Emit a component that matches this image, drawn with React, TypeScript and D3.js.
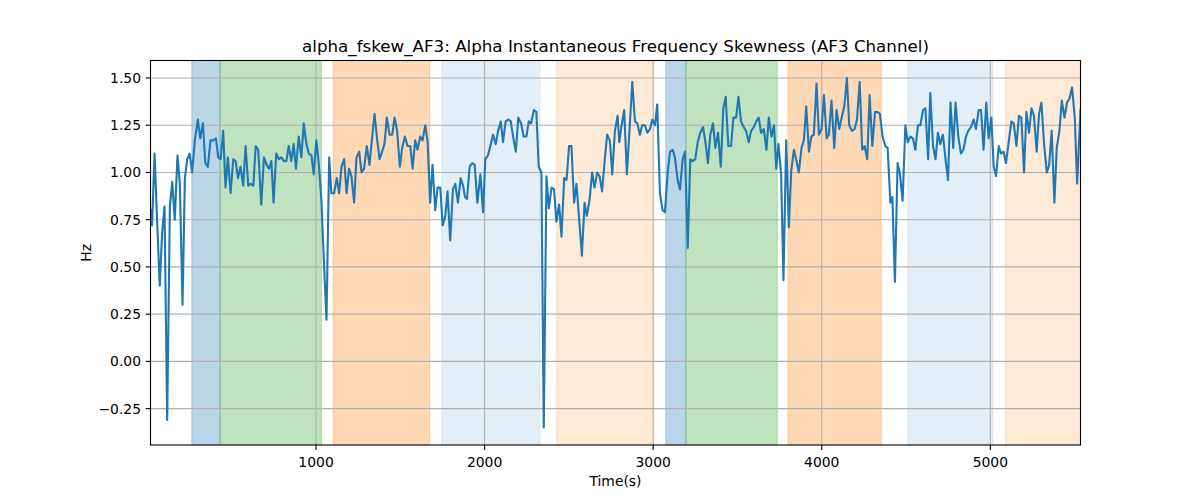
import * as React from "react";
import { extent, format, line, scaleLinear } from "d3";

// time stamps (s) and skewness values
const times = [
  18, 27, 42, 57, 73, 87, 101, 117, 133, 147, 162, 178, 192, 208, 222, 236, 250, 265, 281, 299,
  313, 329, 343, 358, 374, 390, 406, 420, 434, 449, 463, 477, 493, 509, 523, 537, 552, 568, 582, 598,
  612, 628, 642, 657, 675, 691, 707, 721, 735, 748, 764, 780, 794, 810, 824, 838, 853, 867, 881, 897,
  913, 927, 943, 957, 973, 986, 1002, 1016, 1032, 1048, 1062, 1078, 1091, 1107, 1123, 1137, 1151, 1167, 1181, 1196,
  1210, 1226, 1240, 1256, 1270, 1285, 1301, 1317, 1331, 1347, 1363, 1377, 1392, 1406, 1420, 1436, 1452, 1466, 1481, 1497,
  1511, 1527, 1543, 1559, 1573, 1588, 1602, 1618, 1632, 1648, 1662, 1677, 1691, 1707, 1721, 1737, 1751, 1767, 1780, 1796,
  1812, 1826, 1842, 1858, 1872, 1884, 1896, 1911, 1927, 1941, 1957, 1975, 1991, 2004, 2020, 2034, 2050, 2066, 2080, 2096,
  2109, 2125, 2141, 2155, 2169, 2185, 2200, 2216, 2232, 2248, 2262, 2276, 2292, 2307, 2321, 2337, 2351, 2367, 2381, 2397,
  2412, 2426, 2442, 2456, 2472, 2486, 2501, 2515, 2531, 2545, 2561, 2577, 2593, 2606, 2622, 2638, 2652, 2668, 2682, 2697,
  2713, 2727, 2743, 2757, 2773, 2789, 2799, 2813, 2828, 2844, 2860, 2876, 2892, 2906, 2921, 2935, 2951, 2965, 2981, 2995,
  3011, 3024, 3040, 3056, 3070, 3086, 3100, 3116, 3129, 3145, 3159, 3175, 3189, 3205, 3220, 3234, 3250, 3264, 3280, 3296,
  3310, 3325, 3339, 3355, 3369, 3385, 3401, 3416, 3430, 3446, 3462, 3476, 3492, 3506, 3521, 3537, 3551, 3567, 3581, 3597,
  3611, 3626, 3640, 3656, 3672, 3686, 3702, 3717, 3730, 3743, 3759, 3773, 3789, 3805, 3819, 3835, 3848, 3864, 3880, 3894,
  3908, 3924, 3938, 3953, 3969, 3983, 3999, 4013, 4029, 4042, 4058, 4074, 4088, 4104, 4118, 4134, 4149, 4163, 4179, 4195,
  4209, 4225, 4240, 4254, 4270, 4284, 4300, 4316, 4332, 4345, 4361, 4377, 4391, 4407, 4419, 4434, 4450, 4464, 4480, 4496,
  4510, 4526, 4541, 4555, 4571, 4585, 4601, 4615, 4631, 4644, 4660, 4675, 4689, 4703, 4719, 4733, 4749, 4764, 4780, 4794,
  4810, 4826, 4840, 4856, 4869, 4885, 4901, 4915, 4931, 4945, 4960, 4976, 4990, 5006, 5020, 5034, 5050, 5063, 5079, 5093,
  5109, 5125, 5139, 5155, 5170, 5184, 5200, 5214, 5230, 5244, 5259, 5275, 5289, 5303, 5319, 5335, 5349, 5364, 5380, 5394,
  5410, 5424, 5440, 5455, 5469, 5485, 5501, 5515, 5535,
];

const skew = [
  0.80, 0.72, 1.10, 0.75, 0.40, 0.68, 0.82, -0.31, 0.82, 0.95, 0.75, 1.09, 0.94, 0.30, 0.97, 1.07, 1.10, 1.00, 1.17, 1.28,
  1.18, 1.26, 1.05, 1.03, 1.17, 1.17, 1.18, 1.08, 1.07, 1.22, 0.92, 1.08, 0.89, 1.07, 1.06, 0.97, 1.03, 0.93, 1.14, 0.93,
  0.94, 0.93, 1.14, 1.12, 0.83, 1.08, 1.04, 1.02, 1.06, 0.84, 1.10, 1.07, 1.08, 1.06, 1.06, 1.14, 1.06, 1.15, 1.02, 1.19,
  1.08, 1.26, 1.15, 1.10, 1.09, 0.99, 1.17, 1.05, 0.85, 0.50, 0.22, 1.08, 0.89, 0.89, 0.97, 0.89, 1.03, 1.07, 0.89, 1.02,
  0.98, 0.84, 1.08, 1.11, 1.00, 1.02, 1.14, 1.04, 1.17, 1.31, 1.17, 1.07, 1.11, 1.15, 1.29, 1.20, 1.20, 1.29, 1.22, 1.03,
  1.13, 1.19, 1.14, 1.14, 1.02, 1.17, 1.12, 1.19, 1.17, 1.25, 1.16, 0.84, 1.04, 0.80, 0.92, 0.92, 0.72, 0.77, 0.90, 0.64,
  0.91, 0.94, 0.84, 0.97, 0.93, 0.87, 0.86, 1.03, 1.05, 1.04, 0.84, 0.99, 0.79, 1.07, 1.09, 1.14, 1.20, 1.15, 1.22, 1.27,
  1.16, 1.27, 1.28, 1.27, 1.19, 1.11, 1.29, 1.26, 1.19, 1.19, 1.27, 1.26, 1.33, 1.32, 1.03, 1.00, -0.35, 0.98, 0.81, 0.92,
  0.91, 0.74, 0.83, 0.66, 0.97, 0.96, 1.14, 1.14, 0.84, 0.94, 0.75, 0.56, 0.84, 0.77, 0.85, 1.00, 0.92, 1.00, 0.98, 0.90,
  1.07, 1.20, 1.17, 0.99, 1.22, 1.30, 1.16, 1.25, 1.33, 0.99, 1.23, 1.48, 1.27, 1.26, 1.20, 1.25, 1.25, 1.21, 1.23, 1.28,
  1.25, 1.36, 0.89, 0.80, 0.79, 1.00, 1.11, 1.12, 1.08, 0.96, 0.91, 1.07, 1.11, 0.60, 1.07, 1.06, 1.07, 1.16, 1.21, 1.24,
  1.16, 1.05, 1.20, 1.26, 1.13, 1.21, 1.03, 1.34, 1.40, 1.14, 1.14, 1.29, 1.29, 1.40, 1.27, 1.24, 1.22, 1.16, 1.22, 1.24,
  1.27, 1.29, 1.21, 1.23, 1.12, 1.29, 1.19, 1.25, 1.02, 1.15, 0.99, 0.43, 1.17, 0.71, 1.01, 1.12, 1.07, 1.00, 1.13, 1.17,
  1.35, 1.11, 1.19, 1.20, 1.47, 1.20, 1.23, 1.41, 1.18, 1.20, 1.38, 1.13, 1.33, 1.23, 1.29, 1.35, 1.50, 1.25, 1.22, 1.23,
  1.28, 1.48, 1.12, 1.14, 1.07, 1.41, 1.14, 1.32, 1.32, 1.31, 1.19, 1.14, 1.13, 0.84, 0.87, 0.42, 1.05, 0.99, 0.85, 1.25,
  1.16, 1.19, 1.18, 1.12, 1.25, 1.25, 1.33, 1.34, 1.07, 1.42, 1.14, 1.07, 1.21, 1.15, 1.20, 1.08, 0.96, 1.37, 1.13, 1.37,
  1.19, 1.10, 1.12, 1.19, 1.22, 1.24, 1.28, 1.23, 1.33, 1.33, 1.12, 1.37, 1.18, 1.29, 1.03, 0.98, 1.14, 1.10, 1.11, 1.05,
  1.16, 1.27, 1.26, 1.14, 1.30, 1.29, 1.00, 1.32, 1.21, 1.34, 1.30, 1.11, 1.31, 1.37, 1.15, 1.00, 1.04, 1.22, 0.84, 1.13,
  1.22, 1.38, 1.29, 1.37, 1.39, 1.45, 1.29, 0.94, 1.33,
];

// shaded phases
const spanStart = [263, 431, 1101, 1745, 2427, 3075, 3194, 3799, 4511, 5090];
const spanEnd = [431, 1032, 1674, 2327, 3005, 3194, 3736, 4353, 5015, 5535];
const spanPhase = ["a", "b", "c", "d", "e", "a", "b", "c", "d", "e"];

const xTicks = [1000, 2000, 3000, 4000, 5000];
const yTicks = [-0.25, 0, 0.25, 0.5, 0.75, 1.0, 1.25, 1.5];

const phaseStyle: Record<string, { color: string; alpha: number }> = {
  a: { color: "#1f77b4", alpha: 0.3 },
  b: { color: "#2ca02c", alpha: 0.3 },
  c: { color: "#ff7f0e", alpha: 0.3 },
  d: { color: "#1f77b4", alpha: 0.12 },
  e: { color: "#ff7f0e", alpha: 0.16 },
};

const W = 1200;
const H = 500;
const left = 150.5;
const right = 1080.5;
const top = 60.5;
const bottom = 445;

export default function App() {
  React.useEffect(() => {
    document.body.style.margin = "0";
  }, []);

  const [xMin, xMax] = extent(times) as [number, number];
  const [yMin, yMax] = extent(skew) as [number, number];
  const pad = (yMax - yMin) * 0.05;

  const xScale = scaleLinear().domain([xMin, xMax]).range([left, right]);
  const yScale = scaleLinear().domain([yMin - pad, yMax + pad]).range([bottom, top]);

  const path = line<number>()
    .x((_, i) => xScale(times[i]))
    .y((d) => yScale(d))(skew);

  const fmtY = (v: number) => format(".2f")(v).replace("-", "\u2212");
  const font = "DejaVu Sans, sans-serif";

  return (
    <svg width={W} height={H} style={{ display: "block", background: "white" }} fontFamily={font}>
      <defs>
        <clipPath id="plot">
          <rect x={left} y={top} width={right - left} height={bottom - top} />
        </clipPath>
      </defs>

      <g clipPath="url(#plot)">
        {spanStart.map((s, i) => {
          const st = phaseStyle[spanPhase[i]];
          return (
            <rect
              key={i}
              x={xScale(s)}
              y={top}
              width={xScale(spanEnd[i]) - xScale(s)}
              height={bottom - top}
              fill={st.color}
              fillOpacity={st.alpha}
              stroke={st.color}
              strokeOpacity={st.alpha}
              strokeWidth={1}
            />
          );
        })}

        {xTicks.map((t) => (
          <line key={t} x1={xScale(t)} x2={xScale(t)} y1={top} y2={bottom} stroke="#b0b0b0" strokeWidth={1.1} />
        ))}
        {yTicks.map((t) => (
          <line key={t} x1={left} x2={right} y1={yScale(t)} y2={yScale(t)} stroke="#b0b0b0" strokeWidth={1.1} />
        ))}

        <path d={path ?? ""} fill="none" stroke="#1f77b4" strokeWidth={2.1} strokeLinejoin="round" strokeLinecap="square" />
      </g>

      <rect x={left} y={top} width={right - left} height={bottom - top} fill="none" stroke="black" strokeWidth={1.1} />

      {xTicks.map((t) => (
        <g key={t} transform={`translate(${xScale(t)},${bottom})`}>
          <line y2={4.9} stroke="black" strokeWidth={1.1} />
          <text y={21.5} textAnchor="middle" fontSize={13.9} fill="black">
            {t}
          </text>
        </g>
      ))}
      {yTicks.map((t) => (
        <g key={t} transform={`translate(${left},${yScale(t)})`}>
          <line x2={-4.9} stroke="black" strokeWidth={1.1} />
          <text x={-9.5} dy="0.36em" textAnchor="end" fontSize={13.9} fill="black">
            {fmtY(t)}
          </text>
        </g>
      ))}

      <text x={(left + right) / 2} y={52} textAnchor="middle" fontSize={16.7} fill="black">
        alpha_fskew_AF3: Alpha Instantaneous Frequency Skewness (AF3 Channel)
      </text>
      <text x={(left + right) / 2} y={486} textAnchor="middle" fontSize={13.9} fill="black">
        Time(s)
      </text>
      <text transform={`translate(91,${(top + bottom) / 2}) rotate(-90)`} textAnchor="middle" fontSize={13.9} fill="black">
        Hz
      </text>
    </svg>
  );
}
